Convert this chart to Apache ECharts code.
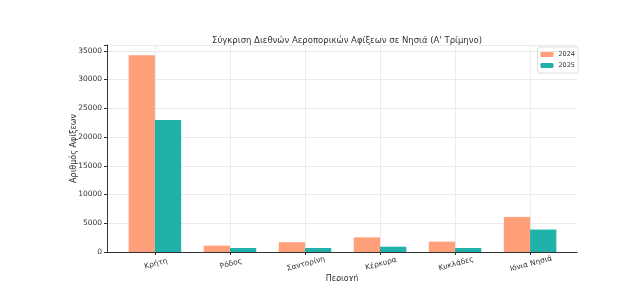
<!DOCTYPE html>
<html><head><meta charset="utf-8">
<script src="https://cdn.jsdelivr.net/npm/echarts@6/dist/echarts.min.js"></script>
<style>html,body{margin:0;padding:0;background:#fff}#c{width:637px;height:281px}</style>
</head><body><div id="c"></div>
<script>
const categories = ['Κρήτη', 'Ρόδος', 'Σαντορίνη', 'Κέρκυρα', 'Κυκλάδες', 'Ιόνια Νησιά'];
const values2024 = [34200, 1100, 1700, 2550, 1800, 6100];
const values2025 = [22950, 700, 700, 920, 700, 3900];
const yTicksMax = 36000;
const titleText = 'Σύγκριση Διεθνών Αεροπορικών Αφίξεων σε Νησιά (Α\' Τρίμηνο)';

const font = 'DejaVu Sans';
const chart = echarts.init(document.getElementById('c'), null, {renderer: 'canvas'});
chart.setOption({
  animation: false,
  backgroundColor: '#fff',
  title: {text: titleText, left: 342, top: 31, textAlign: 'center',
    textStyle: {fontFamily: font, fontSize: 8.5, fontWeight: 'normal', color: '#333'}},
  legend: {data: ['2024', '2025'], orient: 'vertical', right: 59, top: 47,
    itemWidth: 13, itemHeight: 5, itemGap: 4, padding: [4, 3, 4, 3],
    borderColor: '#ddd', borderWidth: 1, borderRadius: 2,
    textStyle: {fontFamily: font, fontSize: 6.5, color: '#333'}},
  grid: [
    {left: 107, right: 60, top: 45, bottom: 29, containLabel: false, outerBoundsMode: 'none'},
    {left: 117.4, right: 69.4, top: 45, bottom: 29, containLabel: false, outerBoundsMode: 'none'}
  ],
  xAxis: [
    {type: 'value', gridIndex: 0, min: 0, max: 1, axisLabel: {show: false}, axisTick: {show: false},
      splitLine: {show: false}, axisLine: {show: true, lineStyle: {color: '#333', width: 1}},
      name: 'Περιοχή', nameLocation: 'middle', nameGap: 23, nameMoveOverlap: false,
      nameTextStyle: {fontFamily: font, fontSize: 8, color: '#333'}},
    {type: 'category', gridIndex: 1, data: categories,
      axisLine: {show: false},
      axisTick: {show: true, alignWithLabel: true, length: 3, lineStyle: {color: '#333'}},
      splitLine: {show: true, alignWithLabel: true, lineStyle: {color: '#e6e6e6', width: 0.8}},
      axisLabel: {rotate: 15, align: 'center', verticalAlign: 'top', margin: 8, interval: 0,
        fontFamily: font, fontSize: 7.5, color: '#333'}}
  ],
  yAxis: [
    {type: 'value', gridIndex: 0, min: 0, max: yTicksMax, interval: 5000,
      axisLine: {show: true, lineStyle: {color: '#333', width: 1}},
      axisTick: {show: true, length: 3, lineStyle: {color: '#333'}},
      axisLabel: {fontFamily: font, fontSize: 7.5, color: '#333', margin: 5,
        formatter: v => (v % 5000 === 0 ? String(v) : '')},
      splitLine: {show: true, lineStyle: {color: '#e6e6e6', width: 0.8}},
      name: 'Αριθμός Αφίξεων', nameLocation: 'middle', nameGap: 29, nameMoveOverlap: false,
      nameTextStyle: {fontFamily: font, fontSize: 8, color: '#333'}},
    {type: 'value', gridIndex: 1, min: 0, max: yTicksMax, interval: 5000, show: false,
      splitLine: {show: false}}
  ],
  series: [
    {name: '2024', type: 'bar', xAxisIndex: 1, yAxisIndex: 1, data: values2024,
      barWidth: '35%', barGap: '0%', itemStyle: {color: '#FFA07A'}},
    {name: '2025', type: 'bar', xAxisIndex: 1, yAxisIndex: 1, data: values2025,
      barWidth: '35%', barGap: '0%', itemStyle: {color: '#20B2AA'}}
  ]
});
</script></body></html>
